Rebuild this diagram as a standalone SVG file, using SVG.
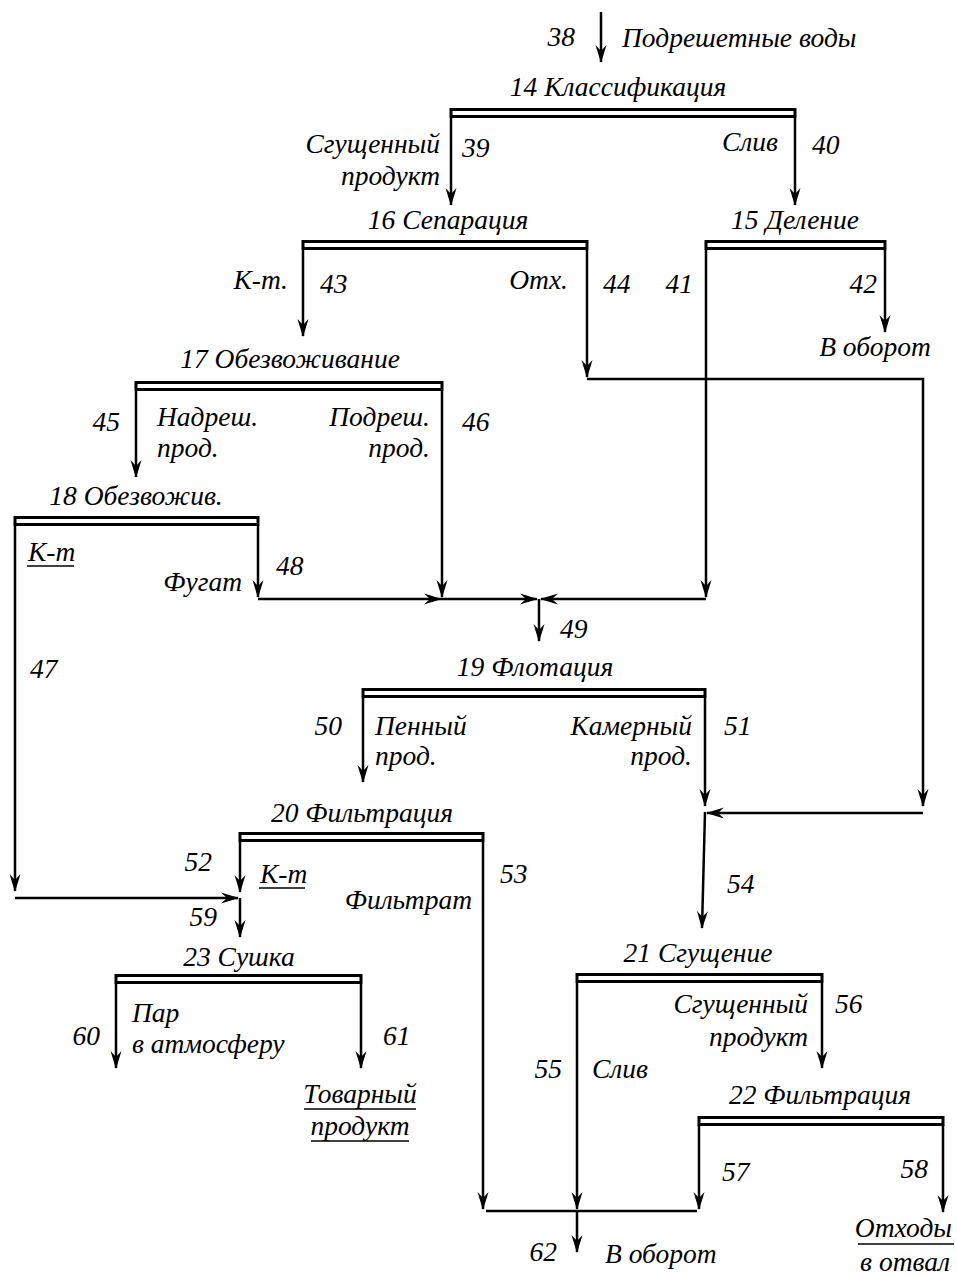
<svg xmlns="http://www.w3.org/2000/svg" width="957" height="1276" viewBox="0 0 957 1276">
<style>
text{font-family:"Liberation Serif","Times New Roman",serif;font-style:italic;font-size:27.5px;fill:#000}
.e{text-anchor:end}
.m{text-anchor:middle}
.bar{fill:#fff;stroke:#000;stroke-width:3}
.c{fill:none;stroke:#000;stroke-width:2.5}
.ca{fill:none;stroke:#000;stroke-width:2.5;marker-end:url(#ah)}
.u{stroke:#000;stroke-width:1.5}
</style>
<defs>
<marker id="ah" markerUnits="userSpaceOnUse" markerWidth="24" markerHeight="14" viewBox="-20 -7 22 14" refX="0" refY="0" orient="auto">
<path d="M1,0 L-17,-5.5 L-11,0 L-17,5.5 Z" fill="#000"/>
</marker>
</defs>

<g id="n14"><text x="618" y="96" class="m">14 Классификация</text><rect class="bar" x="451" y="109.5" width="344" height="7"/></g>
<g id="n16"><text x="448" y="229" class="m">16 Сепарация</text><rect class="bar" x="303" y="241.5" width="284" height="7"/></g>
<g id="n15"><text x="795" y="229" class="m">15 Деление</text><rect class="bar" x="706" y="241.5" width="179" height="7"/></g>
<g id="n17"><text x="290" y="368" class="m">17 Обезвоживание</text><rect class="bar" x="136" y="382.5" width="306" height="7"/></g>
<g id="n18"><text x="136" y="505" class="m">18 Обезвожив.</text><rect class="bar" x="15" y="517.5" width="243" height="7"/></g>
<g id="n19"><text x="535" y="676" class="m">19 Флотация</text><rect class="bar" x="363" y="689.5" width="342" height="7"/></g>
<g id="n20"><text x="362" y="822" class="m">20 Фильтрация</text><rect class="bar" x="240" y="833.5" width="243" height="7"/></g>
<g id="n23"><text x="239" y="966" class="m">23 Сушка</text><rect class="bar" x="116" y="975.5" width="245" height="7"/></g>
<g id="n21"><text x="698" y="962" class="m">21 Сгущение</text><rect class="bar" x="577" y="974.5" width="245" height="7"/></g>
<g id="n22"><text x="820" y="1104" class="m">22 Фильтрация</text><rect class="bar" x="699" y="1117.5" width="244" height="7"/></g>

<g id="connectors">
<line class="ca" x1="601" y1="12" x2="601" y2="62"/>
<line class="ca" x1="451" y1="118" x2="451" y2="205"/>
<line class="ca" x1="795" y1="118" x2="795" y2="205"/>
<line class="ca" x1="303" y1="250" x2="303" y2="336"/>
<line class="ca" x1="587" y1="250" x2="587" y2="377"/>
<polyline class="ca" points="587,379 923,379 923,806"/>
<line class="ca" x1="923" y1="813" x2="707" y2="813"/>
<line class="ca" x1="885" y1="250" x2="885" y2="332"/>
<line class="ca" x1="706" y1="250" x2="706" y2="597"/>
<line class="ca" x1="706" y1="599" x2="541" y2="599"/>
<line class="ca" x1="136" y1="391" x2="136" y2="477"/>
<line class="ca" x1="442" y1="391" x2="442" y2="597"/>
<line class="ca" x1="258" y1="526" x2="258" y2="597"/>
<line class="ca" x1="258" y1="599" x2="441" y2="599"/>
<line class="ca" x1="441" y1="599" x2="537" y2="599"/>
<line class="ca" x1="539" y1="599" x2="539" y2="641"/>
<line class="ca" x1="363" y1="698" x2="363" y2="782"/>
<line class="ca" x1="705" y1="698" x2="705" y2="806"/>
<line class="ca" x1="705" y1="812" x2="702" y2="928"/>
<line class="ca" x1="15" y1="526" x2="15" y2="891"/>
<line class="ca" x1="15" y1="898" x2="238" y2="898"/>
<line class="ca" x1="240" y1="842" x2="240" y2="892"/>
<line class="ca" x1="240" y1="898" x2="240" y2="937"/>
<line class="ca" x1="483" y1="842" x2="483" y2="1209"/>
<line class="ca" x1="116" y1="984" x2="116" y2="1068"/>
<line class="ca" x1="361" y1="984" x2="361" y2="1068"/>
<line class="ca" x1="577" y1="983" x2="577" y2="1209"/>
<line class="ca" x1="822" y1="983" x2="822" y2="1068"/>
<line class="ca" x1="699" y1="1125" x2="699" y2="1209"/>
<line class="ca" x1="943" y1="1125" x2="943" y2="1212"/>
<line class="c" x1="486" y1="1211" x2="697" y2="1211"/>
<line class="ca" x1="577" y1="1211" x2="577" y2="1252"/>
</g>

<g id="labels">
<text x="575" y="46" class="e">38</text>
<text x="622" y="47">Подрешетные воды</text>
<text x="440" y="153" class="e">Сгущенный</text>
<text x="440" y="185" class="e">продукт</text>
<text x="462" y="157">39</text>
<text x="778" y="151" class="e">Слив</text>
<text x="812" y="154">40</text>
<text x="288" y="289" class="e">К-т.</text>
<text x="320" y="293">43</text>
<text x="568" y="289" class="e">Отх.</text>
<text x="603" y="293">44</text>
<text x="693" y="293" class="e">41</text>
<text x="877" y="293" class="e">42</text>
<text x="875" y="356" class="m">В оборот</text>
<text x="120" y="431" class="e">45</text>
<text x="157" y="426">Надреш.</text>
<text x="157" y="457">прод.</text>
<text x="430" y="426" class="e">Подреш.</text>
<text x="430" y="457" class="e">прод.</text>
<text x="462" y="431">46</text>
<text x="28" y="561">К-т</text>
<line class="u" x1="27" y1="566" x2="74" y2="566"/>
<text x="242" y="591" class="e">Фугат</text>
<text x="276" y="575">48</text>
<text x="30" y="678">47</text>
<text x="560" y="638">49</text>
<text x="342" y="735" class="e">50</text>
<text x="375" y="735">Пенный</text>
<text x="375" y="765">прод.</text>
<text x="692" y="735" class="e">Камерный</text>
<text x="692" y="765" class="e">прод.</text>
<text x="724" y="735">51</text>
<text x="727" y="893">54</text>
<text x="212" y="871" class="e">52</text>
<text x="260" y="883">К-т</text>
<line class="u" x1="259" y1="888" x2="305" y2="888"/>
<text x="217" y="926" class="e">59</text>
<text x="500" y="883">53</text>
<text x="472" y="909" class="e">Фильтрат</text>
<text x="100" y="1045" class="e">60</text>
<text x="132" y="1022">Пар</text>
<text x="132" y="1053">в атмосферу</text>
<text x="383" y="1045">61</text>
<text x="360" y="1103" class="m">Товарный</text>
<line class="u" x1="304" y1="1109" x2="416" y2="1109"/>
<text x="360" y="1135" class="m">продукт</text>
<line class="u" x1="311" y1="1141" x2="409" y2="1141"/>
<text x="808" y="1013" class="e">Сгущенный</text>
<text x="808" y="1046" class="e">продукт</text>
<text x="835" y="1013">56</text>
<text x="562" y="1078" class="e">55</text>
<text x="592" y="1078">Слив</text>
<text x="722" y="1181">57</text>
<text x="928" y="1178" class="e">58</text>
<text x="557" y="1261" class="e">62</text>
<text x="605" y="1263">В оборот</text>
<text x="952" y="1237" class="e">Отходы</text>
<line class="u" x1="858" y1="1244" x2="954" y2="1244"/>
<text x="950" y="1271" class="e">в отвал</text>
</g>
</svg>
